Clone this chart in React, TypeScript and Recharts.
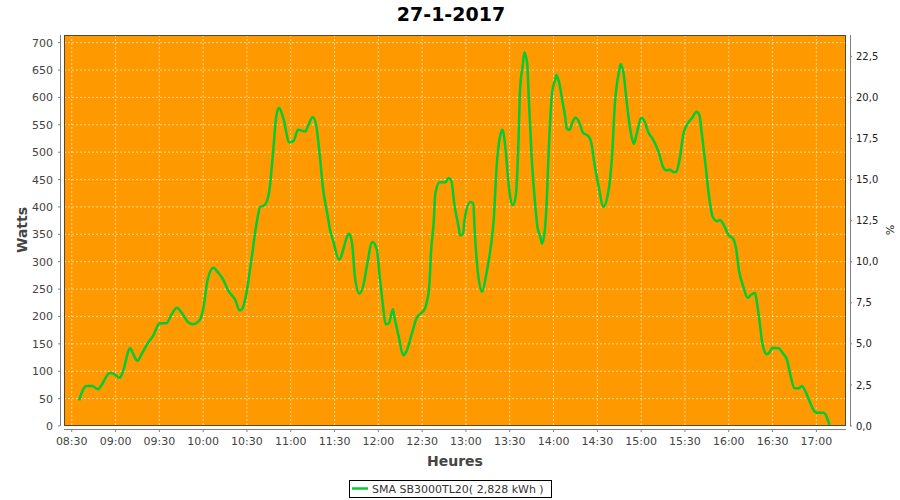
import React from 'react';
import { LineChart, Line, XAxis, YAxis, CartesianGrid } from 'recharts';

const FONT = "'DejaVu Sans', Verdana, sans-serif";

const chartTitle = '27-1-2017';
const seriesName = 'SMA SB3000TL20( 2,828 kWh )';

const sampleTimes = [
  '08:35', '08:40', '08:44', '08:48', '08:50', '08:56', '08:58', '09:03', '09:05', '09:10',
  '09:12', '09:15', '09:18', '09:22', '09:26', '09:30', '09:35', '09:38', '09:42', '09:45',
  '09:50', '09:53', '09:58', '10:00', '10:03', '10:07', '10:10', '10:14', '10:17', '10:22',
  '10:25', '10:27', '10:30', '10:33', '10:37', '10:39', '10:42', '10:45', '10:48', '10:50',
  '10:52', '10:55', '10:59', '11:02', '11:05', '11:10', '11:12', '11:15', '11:17', '11:20',
  '11:22', '11:25', '11:27', '11:29', '11:33', '11:40', '11:42', '11:44', '11:47', '11:50',
  '11:52', '11:56', '11:59', '12:01', '12:03', '12:05', '12:07', '12:10', '12:11', '12:14',
  '12:17', '12:19', '12:23', '12:26', '12:32', '12:33', '12:35', '12:36', '12:38', '12:39',
  '12:42', '12:46', '12:48', '12:50', '12:52', '12:55', '12:56', '12:58', '12:59', '13:03',
  '13:05', '13:06', '13:07', '13:11', '13:14', '13:17', '13:19', '13:21', '13:24', '13:25',
  '13:27', '13:29', '13:30', '13:32', '13:34', '13:36', '13:37', '13:39', '13:40', '13:42',
  '13:43', '13:45', '13:47', '13:49', '13:51', '13:52', '13:54', '13:55', '13:57', '13:59',
  '14:01', '14:02', '14:04', '14:06', '14:08', '14:09', '14:11', '14:13', '14:15', '14:18',
  '14:20', '14:24', '14:26', '14:28', '14:31', '14:34', '14:38', '14:40', '14:42', '14:45',
  '14:46', '14:48', '14:50', '14:53', '14:55', '14:57', '15:00', '15:02', '15:05', '15:08',
  '15:12', '15:15', '15:17', '15:20', '15:22', '15:24', '15:26', '15:29', '15:32', '15:35',
  '15:38', '15:40', '15:41', '15:44', '15:46', '15:49', '15:52', '15:54', '15:56', '16:00',
  '16:03', '16:05', '16:07', '16:10', '16:13', '16:15', '16:18', '16:19', '16:21', '16:23',
  '16:26', '16:28', '16:30', '16:34', '16:37', '16:40', '16:42', '16:45', '16:48', '16:50',
  '16:52', '16:56', '16:59', '17:02', '17:05', '17:07', '17:09',
];

const watts = [
  47, 73, 73, 67, 73, 97, 96, 88, 99, 142,
  132, 119, 132, 151, 166, 187, 188, 202, 216, 208,
  189, 186, 195, 213, 266, 289, 281, 266, 248, 230,
  211, 215, 248, 303, 376, 400, 403, 424, 503, 564,
  581, 561, 518, 521, 541, 538, 549, 564, 555, 491,
  436, 388, 357, 339, 304, 351, 333, 272, 242, 260,
  290, 336, 321, 272, 224, 186, 187, 213, 199, 163,
  129, 135, 169, 196, 215, 224, 260, 315, 375, 424,
  445, 445, 453, 448, 406, 363, 348, 351, 376, 409,
  406, 357, 315, 245, 278, 327, 376, 473, 536, 541,
  509, 448, 424, 403, 418, 521, 612, 661, 682, 661,
  600, 491, 418, 363, 345, 333, 357, 394, 521, 609,
  631, 641, 625, 594, 564, 543, 541, 555, 563, 552,
  536, 529, 515, 479, 436, 400, 436, 491, 588, 649,
  661, 643, 594, 534, 515, 534, 563, 558, 536, 524,
  500, 473, 467, 468, 464, 464, 482, 534, 553, 563,
  574, 567, 546, 479, 430, 382, 374, 376, 370, 348,
  342, 324, 284, 254, 234, 239, 243, 230, 193, 151,
  131, 135, 143, 142, 133, 120, 96, 69, 69, 73,
  66, 41, 26, 24, 24, 17, 2,
];

const xTickLabels = [
  '08:30', '09:00', '09:30', '10:00', '10:30', '11:00', '11:30', '12:00', '12:30',
  '13:00', '13:30', '14:00', '14:30', '15:00', '15:30', '16:00', '16:30', '17:00',
];
const leftTicks = [0, 50, 100, 150, 200, 250, 300, 350, 400, 450, 500, 550, 600, 650, 700];
const rightTicks = [0, 2.5, 5, 7.5, 10, 12.5, 15, 17.5, 20, 22.5];

const toMin = (s: string) => {
  const [h, m] = s.split(':').map(Number);
  return h * 60 + m;
};
const fmtMin = (v: number) => {
  const h = Math.floor(v / 60);
  const m = Math.round(v - h * 60);
  return `${String(h).padStart(2, '0')}:${String(m).padStart(2, '0')}`;
};

const AXIS_GRAY = '#808080';
const TICK_TEXT = '#444444';

const BottomTick = (props: any) => {
  const { x, y, payload } = props;
  return (
    <g>
      <line x1={x} x2={x} y1={y - 8} y2={y - 5} stroke={AXIS_GRAY} />
      <text x={x} y={y} dy="0.71em" textAnchor="middle" fontSize={11} fontFamily={FONT} fill={TICK_TEXT}>
        {fmtMin(payload.value)}
      </text>
    </g>
  );
};

const LeftTick = (props: any) => {
  const { x, y, payload } = props;
  return (
    <g>
      <line x1={x + 5} x2={x + 7} y1={y} y2={y} stroke={AXIS_GRAY} />
      <text x={x} y={y} dy="0.36em" textAnchor="end" fontSize={11} fontFamily={FONT} fill={TICK_TEXT}>
        {payload.value}
      </text>
    </g>
  );
};

const RightTick = (props: any) => {
  const { x, y, payload } = props;
  return (
    <g>
      <line x1={x - 6} x2={x - 4} y1={y} y2={y} stroke={AXIS_GRAY} />
      <text x={x} y={y} dy="0.36em" textAnchor="start" fontSize={10} fontFamily={FONT} fill="#222">
        {Number(payload.value).toFixed(1).replace('.', ',')}
      </text>
    </g>
  );
};

export default function App() {
  const data = sampleTimes.map((s, i) => ({ t: toMin(s), w: watts[i] }));
  const xTicks = xTickLabels.map(toMin);

  return (
    <div style={{ position: 'absolute', left: 0, top: 0, width: 900, height: 500, background: '#ffffff' }}>
      <LineChart width={900} height={500} data={data} margin={{ top: 35, right: 0, left: 0, bottom: 30 }}>
        <CartesianGrid
          fill="#FF9900"
          fillOpacity={1}
          stroke="rgba(255,255,255,0.6)"
          strokeDasharray="2 2"
        />
        <XAxis
          dataKey="t"
          type="number"
          domain={[504.7, 1040.3]}
          ticks={xTicks}
          interval={0}
          height={44}
          tickSize={6}
          tickMargin={5}
          axisLine={false}
          tickLine={false}
          tick={(p: any) => <BottomTick {...p} />}
          allowDataOverflow
        />
        <YAxis
          yAxisId={0}
          type="number"
          width={64}
          domain={[0, 714]}
          ticks={leftTicks}
          interval={0}
          tickSize={6}
          tickMargin={5}
          axisLine={false}
          tickLine={false}
          tick={(p: any) => <LeftTick {...p} />}
          allowDataOverflow
        />
        <YAxis
          yAxisId="right"
          orientation="right"
          type="number"
          width={54}
          domain={[0, 23.8]}
          ticks={rightTicks}
          interval={0}
          tickSize={6}
          tickMargin={4}
          axisLine={false}
          tickLine={false}
          tick={(p: any) => <RightTick {...p} />}
          allowDataOverflow
        />
        <Line
          yAxisId={0}
          dataKey="w"
          type="monotone"
          stroke="#00CC33"
          strokeWidth={2.5}
          dot={false}
          activeDot={false}
          isAnimationActive={false}
        />
      </LineChart>

      <svg
        width={900}
        height={500}
        style={{ position: 'absolute', left: 0, top: 0, pointerEvents: 'none' }}
      >
        <rect x={64.5} y={35.5} width={781} height={390} fill="none" stroke="#5a4630" strokeWidth={1} />
        <line x1={60.5} x2={60.5} y1={35} y2={426} stroke={AXIS_GRAY} />
        <line x1={850.5} x2={850.5} y1={35} y2={426} stroke={AXIS_GRAY} />
        <line x1={64} x2={846} y1={429.5} y2={429.5} stroke={AXIS_GRAY} />
        <text x={451} y={21} textAnchor="middle" fontSize={19} fontWeight="bold" fontFamily={FONT} fill="#000">
          {chartTitle}
        </text>
        <text
          x={0}
          y={0}
          transform="translate(27,230) rotate(-90)"
          textAnchor="middle"
          fontSize={14}
          fontWeight="bold"
          fontFamily={FONT}
          fill="#444"
        >
          Watts
        </text>
        <text x={455} y={466} textAnchor="middle" fontSize={14} fontWeight="bold" fontFamily={FONT} fill="#444">
          Heures
        </text>
        <text
          x={0}
          y={0}
          transform="translate(886,230) rotate(90)"
          textAnchor="middle"
          fontSize={11}
          fontFamily={FONT}
          fill="#222"
        >
          %
        </text>
      </svg>

      <div
        style={{
          position: 'absolute',
          left: 349,
          top: 480,
          width: 201,
          height: 16,
          border: '1px solid #000',
          background: '#fff',
          display: 'flex',
          alignItems: 'center',
          fontFamily: FONT,
          fontSize: 11,
          color: '#333',
          whiteSpace: 'nowrap',
        }}
      >
        <svg width={20} height={16} style={{ display: 'block', marginLeft: 1 }}>
          <line x1={1} x2={17} y1={7.5} y2={7.5} stroke="#00CC33" strokeWidth={2.5} />
        </svg>
        <span style={{ marginLeft: 1 }}>{seriesName}</span>
      </div>
    </div>
  );
}
